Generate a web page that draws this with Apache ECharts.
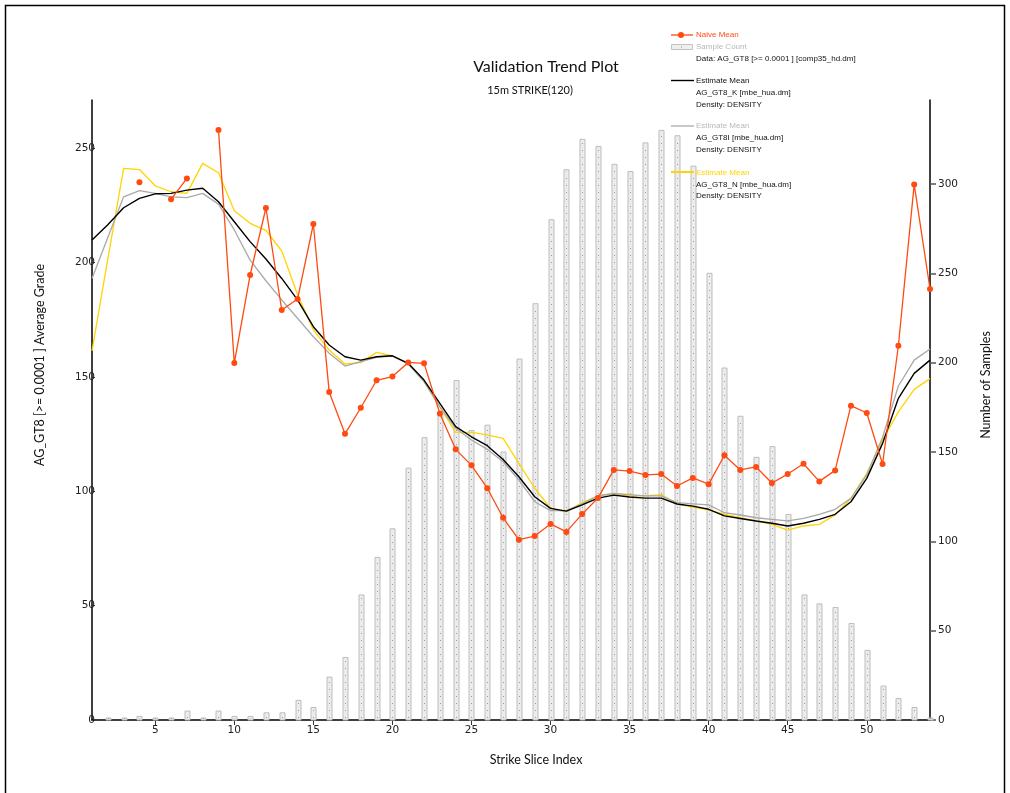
<!DOCTYPE html>
<html>
<head>
<meta charset="utf-8">
<title>Validation Trend Plot</title>
<script src="https://cdn.jsdelivr.net/npm/echarts@6/dist/echarts.min.js"></script>
<style>
  html, body { margin: 0; padding: 0; background: #fff; }
  #chart { width: 1010px; height: 793px; }
</style>
</head>
<body>
<div id="chart"></div>
<script>
// Strike slice indices along the section
const slices = [1,2,3,4,5,6,7,8,9,10,11,12,13,14,15,16,17,18,19,20,21,22,23,24,25,26,27,
  28,29,30,31,32,33,34,35,36,37,38,39,40,41,42,43,44,45,46,47,48,49,50,51,52,53,54];

// Composite sample count per slice (right axis)
const sampleCount = [null,0,0,2,0,1,5,0,5,2,2,4,4,11,7,24,35,70,91,107,141,158,171,190,162,165,150,
  202,233,280,308,325,321,311,307,323,330,327,310,250,197,170,147,153,115,70,65,63,54,39,19,12,7,1];

// Naive mean of composites (null where a slice has no samples)
const naiveMean = [null,null,null,235.1,null,227.6,236.7,null,257.9,156.0,194.5,223.8,179.2,184.0,216.8,
  143.4,125.1,136.5,148.5,150.1,156.3,155.9,134.0,118.3,111.3,101.3,88.4,78.8,80.4,85.7,82.2,90.0,97.0,
  109.3,108.8,107.1,107.5,102.3,105.8,103.1,115.7,109.3,110.6,103.6,107.5,112.0,104.3,109.1,137.4,134.2,
  111.9,163.6,234.1,188.4];

// Block model estimate means
const estimateK = [209.8,216.5,223.9,228.0,230.0,230.2,231.6,232.4,226.5,217.8,209.1,201.5,193.0,183.6,
  171.9,163.9,158.8,157.3,158.8,159.2,155.9,148.6,138.4,128.2,123.8,119.9,113.9,106.3,97.6,92.5,91.3,94.0,
  97.0,98.3,97.5,97.0,97.0,94.4,93.5,92.1,89.2,88.1,87.0,86.0,84.8,86.0,87.7,89.9,95.4,105.6,120.9,140.6,
  151.5,157.3];
const estimateI = [193.0,210.9,228.7,231.4,230.2,228.7,228.3,230.2,225.5,214.2,201.0,192.0,183.6,175.6,
  167.5,160.3,154.7,156.6,158.5,159.1,155.6,147.9,136.9,127.5,122.4,118.3,112.9,104.9,95.4,91.5,91.5,94.5,
  98.0,99.0,98.5,98.0,98.0,95.0,94.5,94.0,90.6,89.6,88.4,87.7,87.0,88.1,89.9,92.1,96.9,107.1,123.6,146.0,
  157.3,162.2];
const estimateN = [161.3,201.4,241.1,240.6,233.5,230.9,230.2,243.3,239.2,222.6,217.1,214.0,205.0,186.0,
  170.5,161.7,155.6,156.2,160.7,159.1,155.9,147.9,136.9,125.7,125.7,124.6,123.1,112.2,101.3,92.5,91.0,95.0,
  98.0,99.0,98.0,98.0,98.5,94.5,93.0,91.8,89.9,88.4,87.0,85.5,83.0,84.8,85.5,89.6,96.9,107.8,122.4,134.7,
  144.5,149.2];

// Tick values
const xTicks = [5,10,15,20,25,30,35,40,45,50];
const gradeTicks = [0,50,100,150,200,250];
const countTicks = [0,50,100,150,200,250,300];

const pairs = (vals) => slices.map((s, i) => [s, vals[i]]);

const ORANGE = '#ff4a12';
const YELLOW = '#ffd400';
const tickFont = { fontFamily: 'DejaVu Sans', fontSize: 10.5, color: '#222' };
const legFont = 'Liberation Sans';

const chart = echarts.init(document.getElementById('chart'), null, { renderer: 'canvas' });

function legendText(x, y, text, fill) {
  return { type: 'text', x: x, y: y, style: { text: text, fill: fill || '#111',
    font: '8px "' + legFont + '"', textVerticalAlign: 'middle' }, z: 100 };
}

const option = {
  animation: false,
  backgroundColor: '#fff',
  grid: { left: 92, right: 80, top: 100, bottom: 73, containLabel: false },
  xAxis: {
    type: 'value', min: 1, max: 54,
    axisLine: { lineStyle: { color: '#000', width: 1.5 } },
    axisTick: { customValues: xTicks, length: 5, lineStyle: { color: '#333' } },
    axisLabel: Object.assign({ customValues: xTicks, margin: 5 }, tickFont),
    splitLine: { show: false }
  },
  yAxis: [
    {
      type: 'value', min: 0, max: 271, position: 'left',
      axisLine: { show: true, lineStyle: { color: '#000', width: 1.5 } },
      axisTick: { show: true, customValues: gradeTicks, length: 3, inside: true, lineStyle: { color: '#333' } },
      axisLabel: Object.assign({ customValues: gradeTicks, margin: -3 }, tickFont),
      splitLine: { show: false }
    },
    {
      type: 'value', min: 0, max: 347, position: 'right',
      axisLine: { show: true, lineStyle: { color: '#000', width: 1.5 } },
      axisTick: { show: true, customValues: countTicks, length: 6, lineStyle: { color: '#555', width: 1.5 } },
      axisLabel: Object.assign({ customValues: countTicks, margin: 8 }, tickFont),
      splitLine: { show: false }
    }
  ],
  series: [
    {
      name: 'Sample Count', type: 'custom', yAxisIndex: 1, z: 1,
      data: pairs(sampleCount).filter(d => d[1] !== null),
      encode: { x: 0, y: 1 },
      renderItem: function (params, api) {
        const x = api.value(0), v = api.value(1);
        const base = api.coord([x, 0]);
        const top = api.coord([x, v]);
        const w = 5;
        const cx = Math.round(base[0]) + 0.5;
        const h = Math.max(base[1] - top[1], 2);
        return {
          type: 'group',
          children: [
            { type: 'rect', shape: { x: cx - w / 2, y: base[1] - h, width: w, height: h },
              style: { fill: '#ececec', stroke: '#bdbdbd', lineWidth: 1 } },
            { type: 'line', shape: { x1: cx, y1: base[1] - 2, x2: cx, y2: base[1] - h + 2 },
              style: { stroke: '#999', lineWidth: 1, lineDash: [1, 6] } }
          ]
        };
      }
    },
    {
      name: 'Estimate Mean N', type: 'line', yAxisIndex: 0, z: 3,
      data: pairs(estimateN), showSymbol: false, symbol: 'none',
      lineStyle: { color: YELLOW, width: 1.3 }
    },
    {
      name: 'Estimate Mean I', type: 'line', yAxisIndex: 0, z: 3,
      data: pairs(estimateI), showSymbol: false, symbol: 'none',
      lineStyle: { color: '#a9a9a9', width: 1.3 }
    },
    {
      name: 'Estimate Mean K', type: 'line', yAxisIndex: 0, z: 4,
      data: pairs(estimateK), showSymbol: false, symbol: 'none',
      lineStyle: { color: '#000', width: 1.4 }
    },
    {
      name: 'Naive Mean', type: 'line', yAxisIndex: 0, z: 5,
      data: pairs(naiveMean), connectNulls: false,
      symbol: 'circle', symbolSize: 6, showSymbol: true,
      lineStyle: { color: ORANGE, width: 1.3 },
      itemStyle: { color: ORANGE }
    }
  ],
  graphic: [
    // outer frame
    { type: 'rect', shape: { x: 5.5, y: 5.5, width: 999, height: 800 },
      style: { fill: 'none', stroke: '#000', lineWidth: 1.5 }, z: 0, silent: true },
    // titles
    { type: 'text', x: 546, y: 67, style: { text: 'Validation Trend Plot', fill: '#111',
      font: '16px Lato', textAlign: 'center', textVerticalAlign: 'middle' } },
    { type: 'text', x: 530, y: 90, style: { text: '15m STRIKE(120)', fill: '#111',
      font: '11px Lato', textAlign: 'center', textVerticalAlign: 'middle' } },
    // axis names
    { type: 'text', x: 536, y: 760, style: { text: 'Strike Slice Index', fill: '#111',
      font: '12.5px Lato', textAlign: 'center', textVerticalAlign: 'middle' } },
    { type: 'text', x: 40, y: 365, rotation: Math.PI / 2, style: { text: 'AG_GT8 [>= 0.0001 ] Average Grade',
      fill: '#111', font: '12.5px Lato', textAlign: 'center', textVerticalAlign: 'middle' } },
    { type: 'text', x: 986, y: 385, rotation: Math.PI / 2, style: { text: 'Number of Samples',
      fill: '#111', font: '12.5px Lato', textAlign: 'center', textVerticalAlign: 'middle' } },
    // legend
    { type: 'line', shape: { x1: 671, y1: 35, x2: 693, y2: 35 }, style: { stroke: ORANGE, lineWidth: 1.3 }, z: 100 },
    { type: 'circle', shape: { cx: 681, cy: 35, r: 3 }, style: { fill: ORANGE }, z: 100 },
    legendText(696, 35, 'Naive Mean', ORANGE),
    { type: 'rect', shape: { x: 671.5, y: 44.5, width: 21, height: 5 }, style: { fill: '#efefef', stroke: '#c2c2c2', lineWidth: 1 }, z: 100 },
    { type: 'rect', shape: { x: 681, y: 46.5, width: 1, height: 1 }, style: { fill: '#888' }, z: 100 },
    legendText(696, 47, 'Sample Count', '#b8b8b8'),
    legendText(696, 59, 'Data: AG_GT8 [>= 0.0001 ] [comp35_hd.dm]'),
    { type: 'line', shape: { x1: 671, y1: 80.5, x2: 694, y2: 80.5 }, style: { stroke: '#000', lineWidth: 1.4 }, z: 100 },
    legendText(696, 80.5, 'Estimate Mean'),
    legendText(696, 93, 'AG_GT8_K [mbe_hua.dm]'),
    legendText(696, 104.5, 'Density: DENSITY'),
    { type: 'line', shape: { x1: 671, y1: 126, x2: 694, y2: 126 }, style: { stroke: '#a9a9a9', lineWidth: 1.3 }, z: 100 },
    legendText(696, 126, 'Estimate Mean', '#b8b8b8'),
    legendText(696, 138, 'AG_GT8I [mbe_hua.dm]'),
    legendText(696, 150, 'Density: DENSITY'),
    { type: 'line', shape: { x1: 671, y1: 172, x2: 694, y2: 172 }, style: { stroke: YELLOW, lineWidth: 2 }, z: 100 },
    legendText(696, 172.5, 'Estimate Mean', YELLOW),
    legendText(696, 184.5, 'AG_GT8_N [mbe_hua.dm]'),
    legendText(696, 196, 'Density: DENSITY')
  ]
};

chart.setOption(option);
</script>
</body>
</html>
